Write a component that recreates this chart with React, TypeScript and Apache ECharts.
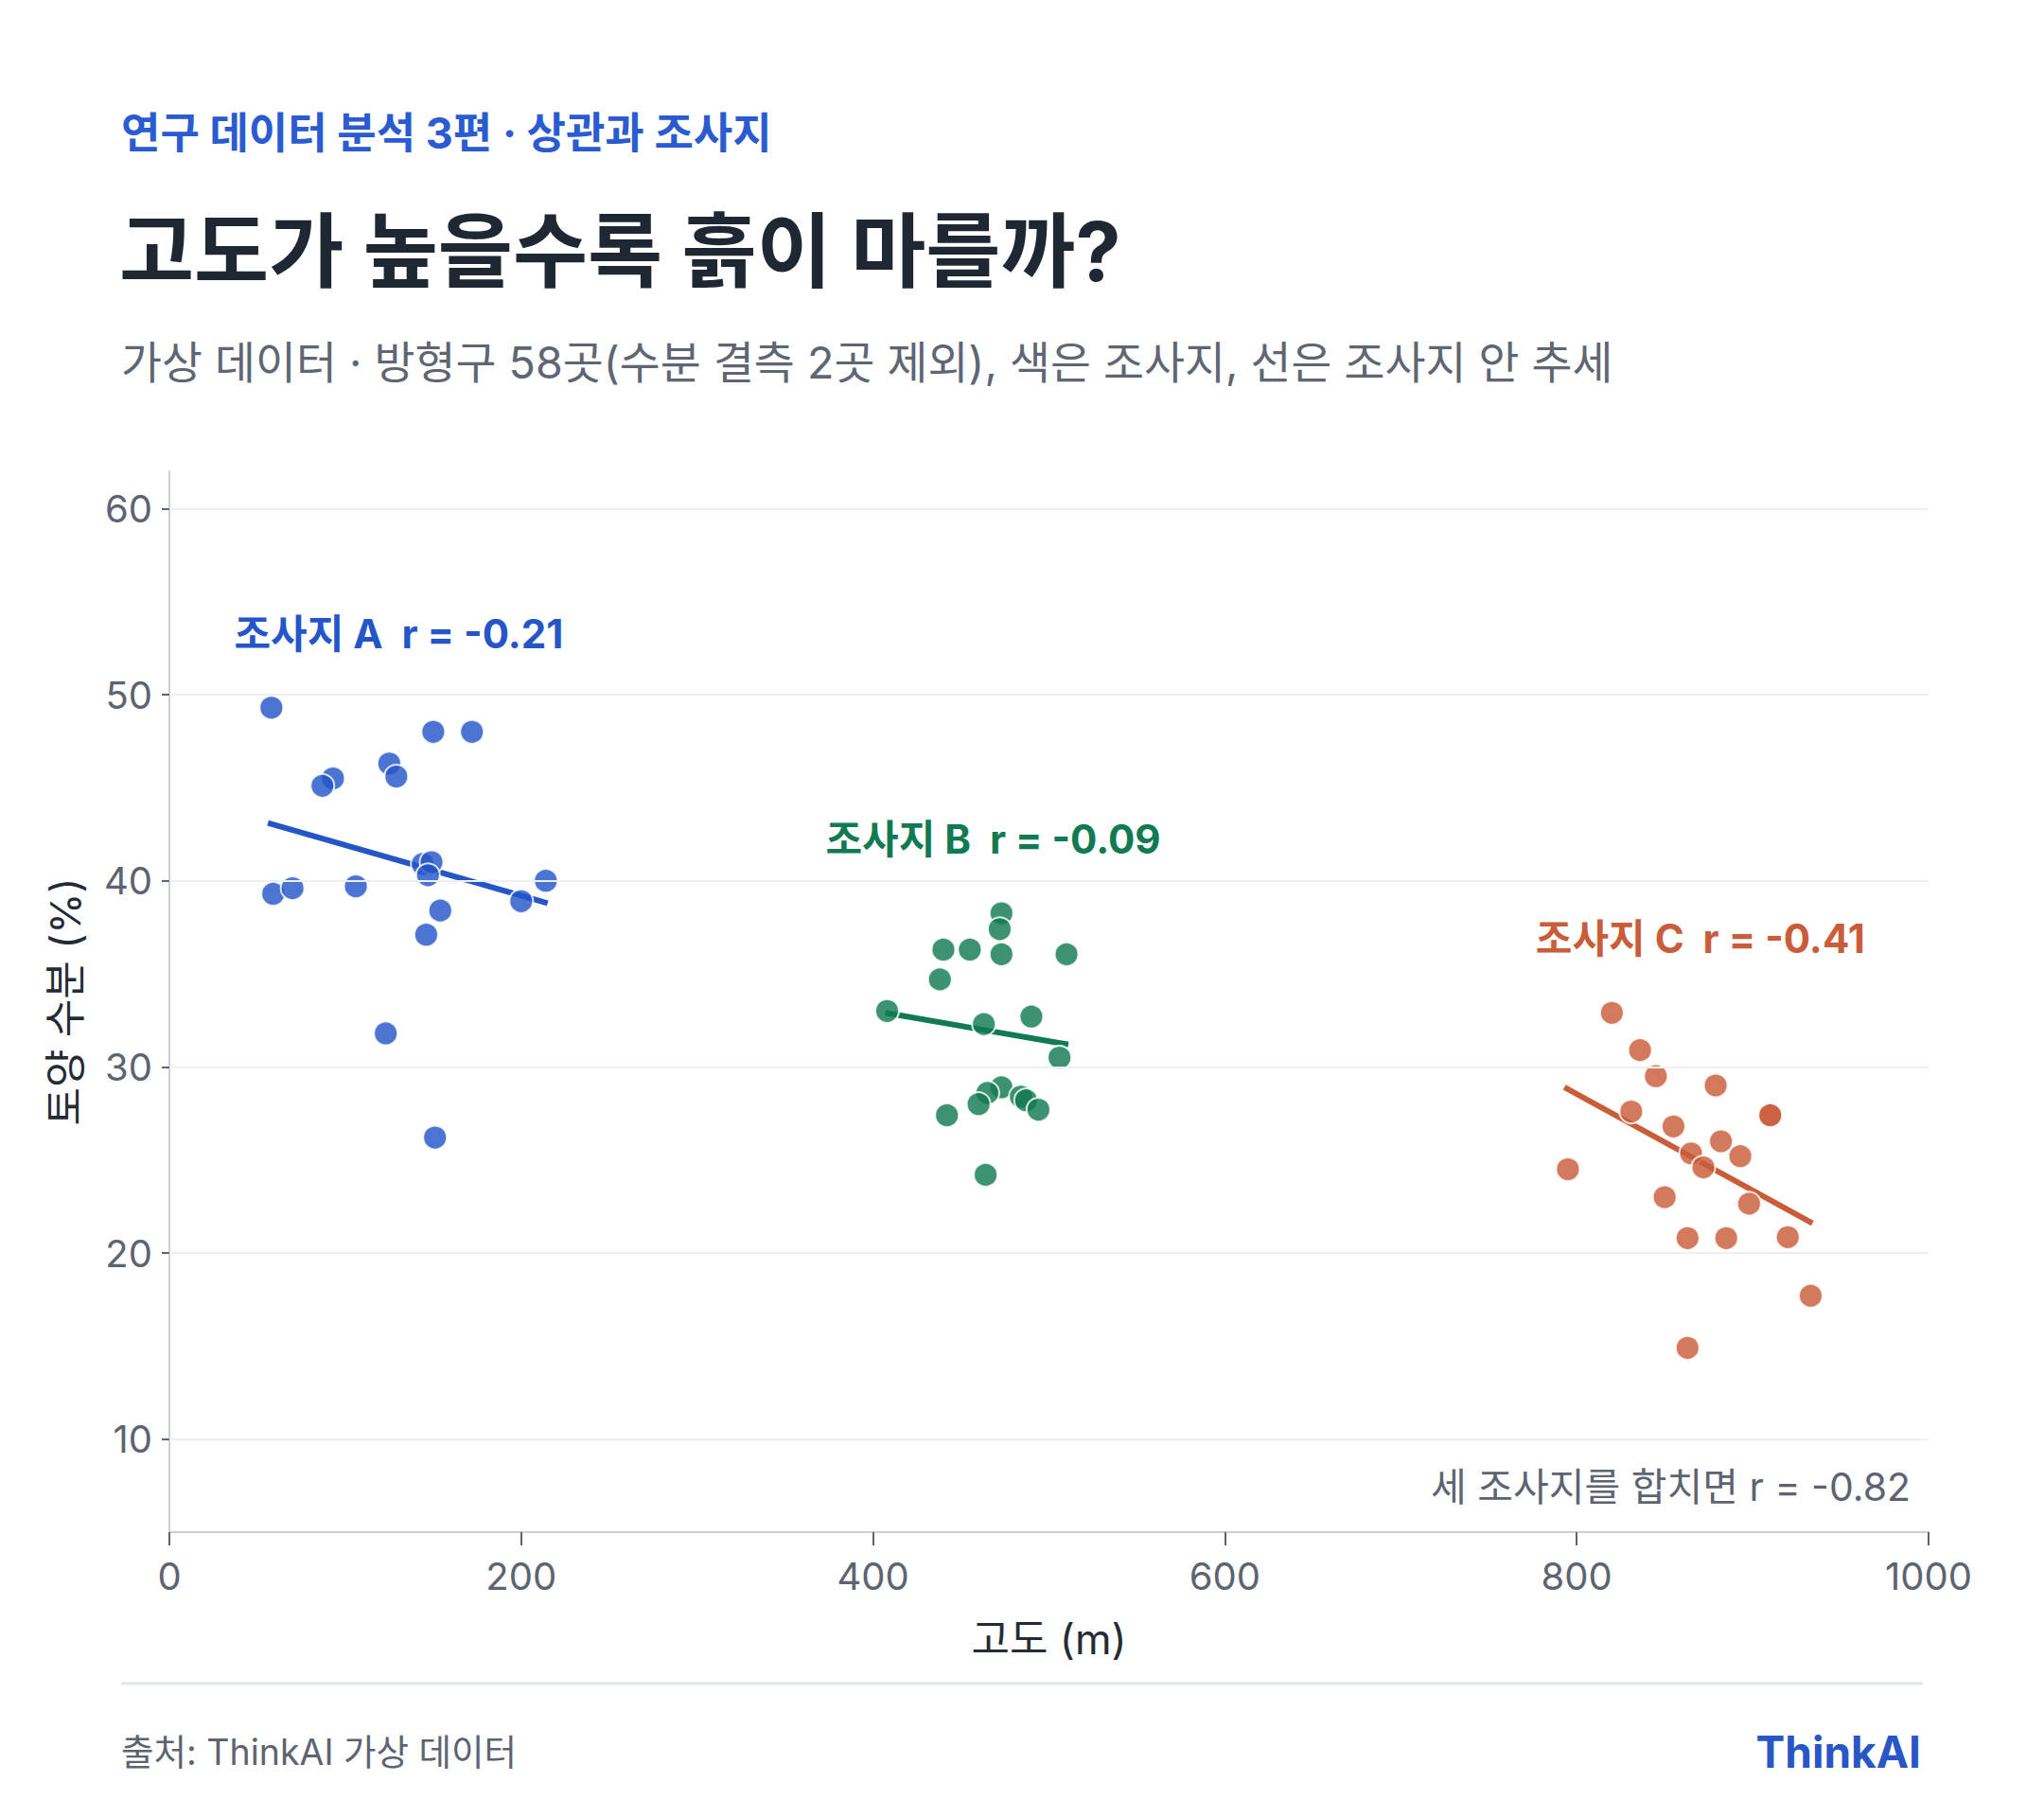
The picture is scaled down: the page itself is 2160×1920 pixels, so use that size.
import { useEffect, useRef } from 'react';
import * as echarts from 'echarts';

// 조사지별 방형구: 고도(m), 토양 수분(%)
const siteNames = ['조사지 A', '조사지 B', '조사지 C'];
const siteR = ['-0.21', '-0.09', '-0.41'];
const siteColors = ['#2456c8', '#117a52', '#c95d3a'];

const altA = [58, 150, 172, 125, 129, 93, 87, 144, 149, 147, 59, 70, 106, 214, 200, 154, 146, 123, 151];
const moistA = [49.3, 48.0, 48.0, 46.3, 45.6, 45.5, 45.1, 40.9, 41.0, 40.3, 39.3, 39.6, 39.7, 40.0, 38.9, 38.4, 37.1, 31.8, 26.2];

const altB = [473, 472, 440, 455, 473, 510, 438, 408, 463, 490, 506, 473, 465, 460, 484, 487, 494, 442, 464];
const moistB = [38.25, 37.4, 36.3, 36.3, 36.05, 36.05, 34.7, 33.0, 32.3, 32.7, 30.5, 28.9, 28.6, 28.0, 28.4, 28.2, 27.7, 27.4, 24.2];

const altC = [820, 836, 845, 879, 831, 910, 910, 855, 882, 893, 865, 872, 795, 850, 898, 863, 885, 920, 933, 863];
const moistC = [32.9, 30.9, 29.5, 29.0, 27.6, 27.4, 27.4, 26.8, 26.0, 25.2, 25.35, 24.6, 24.5, 23.0, 22.65, 20.8, 20.8, 20.85, 17.7, 14.9];

// 조사지 안 추세선 양 끝점 [고도, 수분]
const trendA = [[56, 43.1], [215, 38.8]];
const trendB = [[407, 32.9], [511, 31.2]];
const trendC = [[793, 28.9], [934, 21.6]];

const yTicks = [10, 20, 30, 40, 50, 60];
const pooledR = '-0.82';

const FONT = "Inter, 'Noto Sans CJK KR', sans-serif";

function pairs(xs: number[], ys: number[]) {
  return xs.map((x, i) => [x, ys[i]]);
}

function mean(xs: number[]) {
  return xs.reduce((a, b) => a + b, 0) / xs.length;
}

export default function App() {
  const ref = useRef<HTMLDivElement>(null);

  useEffect(() => {
    if (!ref.current) return;
    const chart = echarts.init(ref.current, undefined, { renderer: 'svg' });

    const sites = [
      { x: altA, y: moistA, trend: trendA },
      { x: altB, y: moistB, trend: trendB },
      { x: altC, y: moistC, trend: trendC },
    ];

    const series: any[] = [
      {
        type: 'line',
        data: [],
        silent: true,
        z: 1,
        markLine: {
          silent: true,
          symbol: ['none', 'none'],
          label: { show: false },
          lineStyle: { color: '#eceff3', width: 2, type: 'solid' },
          data: yTicks.map((v) => ({ yAxis: v })),
        },
      },
    ];

    sites.forEach((s, i) => {
      series.push({
        name: siteNames[i] + ' 추세',
        type: 'line',
        data: s.trend,
        symbol: 'none',
        z: 3,
        lineStyle: { color: siteColors[i], width: 6 },
      });
      series.push({
        name: siteNames[i],
        type: 'scatter',
        data: pairs(s.x, s.y),
        symbolSize: 25,
        z: 4,
        itemStyle: { color: siteColors[i], opacity: 0.82, borderColor: '#ffffff', borderWidth: 2 },
      });
      // 조사지 라벨: 군집 평균 고도 위, 최고 수분보다 4%p 위
      series.push({
        type: 'scatter',
        data: [[mean(s.x), Math.max(...s.y) + 4]],
        symbolSize: 1,
        z: 5,
        silent: true,
        itemStyle: { color: 'rgba(0,0,0,0)', opacity: 1 },
        label: {
          show: true,
          position: 'inside',
          formatter: `${siteNames[i]}  r = ${siteR[i]}`,
          color: siteColors[i],
          fontFamily: FONT,
          fontWeight: 'bold',
          fontSize: 42,
        },
      });
    });

    chart.setOption({
      animation: false,
      grid: { left: 179, right: 122, top: 498, bottom: 301 },
      xAxis: {
        type: 'value',
        min: 0,
        max: 1000,
        interval: 200,
        name: '고도 (m)',
        nameLocation: 'middle',
        nameGap: 91,
        nameTextStyle: { color: '#252b35', fontFamily: FONT, fontSize: 44 },
        axisLine: { lineStyle: { color: '#c9d0da', width: 2 } },
        axisTick: { show: true, length: 14, lineStyle: { color: '#5d6370', width: 2 } },
        axisLabel: { color: '#5d6370', fontFamily: FONT, fontSize: 40, margin: 26, formatter: (v: number) => String(v) },
        splitLine: { show: false },
      },
      yAxis: {
        type: 'value',
        min: 5,
        max: 62,
        name: '토양 수분 (%)',
        nameLocation: 'middle',
        nameGap: 88,
        nameRotate: 90,
        nameTextStyle: { color: '#252b35', fontFamily: FONT, fontSize: 44 },
        axisLine: { show: true, lineStyle: { color: '#c9d0da', width: 2 } },
        axisTick: { show: true, length: 8, customValues: yTicks, lineStyle: { color: '#5d6370', width: 2 } },
        axisLabel: { color: '#5d6370', fontFamily: FONT, fontSize: 40, margin: 18, customValues: yTicks },
        splitLine: { show: false },
      },
      graphic: [
        {
          type: 'text',
          x: 128,
          y: 140,
          style: {
            text: '연구 데이터 분석 3편 · 상관과 조사지',
            fill: '#2a5bd0',
            font: `bold 45px ${FONT}`,
            align: 'left',
            verticalAlign: 'middle',
          },
        },
        {
          type: 'text',
          x: 126,
          y: 266,
          style: {
            text: '고도가 높을수록 흙이 마를까?',
            fill: '#1f2733',
            font: `bold 86px ${FONT}`,
            align: 'left',
            verticalAlign: 'middle',
          },
        },
        {
          type: 'text',
          x: 128,
          y: 383,
          style: {
            text: '가상 데이터 · 방형구 58곳(수분 결측 2곳 제외), 색은 조사지, 선은 조사지 안 추세',
            fill: '#5f6673',
            font: `46.7px ${FONT}`,
            align: 'left',
            verticalAlign: 'middle',
          },
        },
        {
          type: 'text',
          x: 2019,
          y: 1571,
          style: {
            text: `세 조사지를 합치면 r = ${pooledR}`,
            fill: '#5d6370',
            font: `41px ${FONT}`,
            align: 'right',
            verticalAlign: 'middle',
          },
        },
        {
          type: 'line',
          shape: { x1: 128, y1: 1779, x2: 2032, y2: 1779 },
          style: { stroke: '#e2e5e9', lineWidth: 3 },
        },
        {
          type: 'text',
          x: 128,
          y: 1851,
          style: {
            text: '출처: ThinkAI 가상 데이터',
            fill: '#5d6370',
            font: `37.5px ${FONT}`,
            align: 'left',
            verticalAlign: 'middle',
          },
        },
        {
          type: 'text',
          x: 2030,
          y: 1851,
          style: {
            text: 'ThinkAI',
            fill: '#2856c5',
            font: `bold 46px ${FONT}`,
            align: 'right',
            verticalAlign: 'middle',
          },
        },
      ],
      series,
    });

    return () => chart.dispose();
  }, []);

  return (
    <div style={{ position: 'absolute', left: 0, top: 0, width: 2160, height: 1920, background: '#ffffff' }}>
      <div ref={ref} style={{ width: 2160, height: 1920 }} />
    </div>
  );
}
